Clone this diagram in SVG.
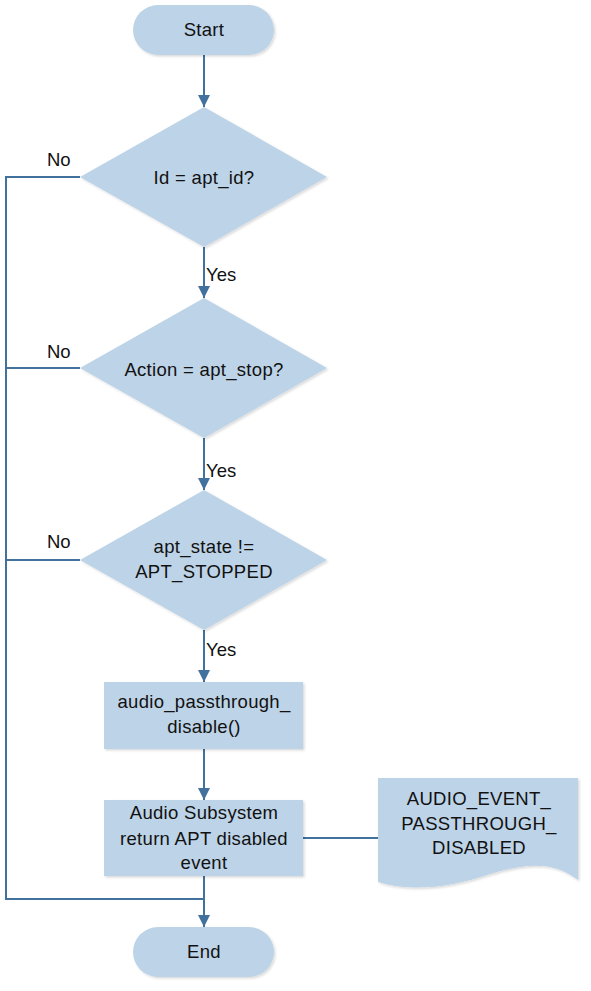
<svg xmlns="http://www.w3.org/2000/svg" width="591" height="991" viewBox="0 0 591 991">
<defs>
<marker id="arr" viewBox="0 0 12 12" refX="12" refY="6" markerWidth="12" markerHeight="12" markerUnits="userSpaceOnUse" orient="auto">
<path d="M0,0 L12,6 L0,12 Z" fill="#41719c"/>
</marker>
<filter id="sh" x="-10%" y="-10%" width="125%" height="125%">
<feDropShadow dx="1.5" dy="1.5" stdDeviation="1.2" flood-color="#000" flood-opacity="0.15"/>
</filter>
</defs>
<style>
.s{fill:#bdd3e7;filter:url(#sh)}
.t{font-family:"Liberation Sans",Arial,sans-serif;font-size:18.5px;letter-spacing:0.3px;fill:#111;text-anchor:middle}
.l{font-family:"Liberation Sans",Arial,sans-serif;font-size:18.5px;fill:#111}
.c{fill:none;stroke:#41719c;stroke-width:2}
</style>
<rect width="591" height="991" fill="#fff"/>
<g id="connectors">
<line class="c" x1="204" y1="55" x2="204" y2="107" marker-end="url(#arr)"/>
<line class="c" x1="204" y1="247" x2="204" y2="298" marker-end="url(#arr)"/>
<line class="c" x1="204" y1="438" x2="204" y2="490" marker-end="url(#arr)"/>
<line class="c" x1="204" y1="630" x2="204" y2="682" marker-end="url(#arr)"/>
<line class="c" x1="204" y1="749" x2="204" y2="800" marker-end="url(#arr)"/>
<line class="c" x1="204" y1="876" x2="204" y2="927" marker-end="url(#arr)"/>
<polyline class="c" points="80,177 6,177 6,899 204,899"/>
<line class="c" x1="80" y1="368" x2="6" y2="368"/>
<line class="c" x1="80" y1="560" x2="6" y2="560"/>
<line class="c" x1="303" y1="838" x2="378" y2="838"/>
<text class="l" x="47" y="166">No</text>
<text class="l" x="47" y="358">No</text>
<text class="l" x="47" y="548">No</text>
<text class="l" x="206" y="281">Yes</text>
<text class="l" x="206" y="477">Yes</text>
<text class="l" x="206" y="656">Yes</text>
</g>
<g id="start">
<rect class="s" x="133" y="5" width="141" height="50" rx="25"/>
<text class="t" x="204" y="36">Start</text>
</g>
<g id="dec1">
<polygon class="s" points="204,107 327,177 204,247 80,177"/>
<text class="t" x="204" y="184">Id = apt_id?</text>
</g>
<g id="dec2">
<polygon class="s" points="204,298 327,368 204,438 80,368"/>
<text class="t" x="204" y="376">Action = apt_stop?</text>
</g>
<g id="dec3">
<polygon class="s" points="204,490 327,560 204,630 80,560"/>
<text class="t" x="204" y="553">apt_state !=</text>
<text class="t" x="204" y="578">APT_STOPPED</text>
</g>
<g id="proc1">
<rect class="s" x="104" y="682" width="199" height="67"/>
<text class="t" x="204" y="708">audio_passthrough_</text>
<text class="t" x="204" y="733">disable()</text>
</g>
<g id="proc2">
<rect class="s" x="104" y="800" width="199" height="76"/>
<text class="t" x="204" y="819">Audio Subsystem</text>
<text class="t" x="204" y="845">return APT disabled</text>
<text class="t" x="204" y="869">event</text>
</g>
<g id="doc">
<path class="s" d="M378,778 H578 V880 C555,862 530,862 490,874 C450,888 410,892 378,882 Z"/>
<text class="t" x="479" y="805">AUDIO_EVENT_</text>
<text class="t" x="479" y="830">PASSTHROUGH_</text>
<text class="t" x="479" y="854">DISABLED</text>
</g>
<g id="end">
<rect class="s" x="133" y="927" width="141" height="50" rx="25"/>
<text class="t" x="204" y="958">End</text>
</g>
</svg>
